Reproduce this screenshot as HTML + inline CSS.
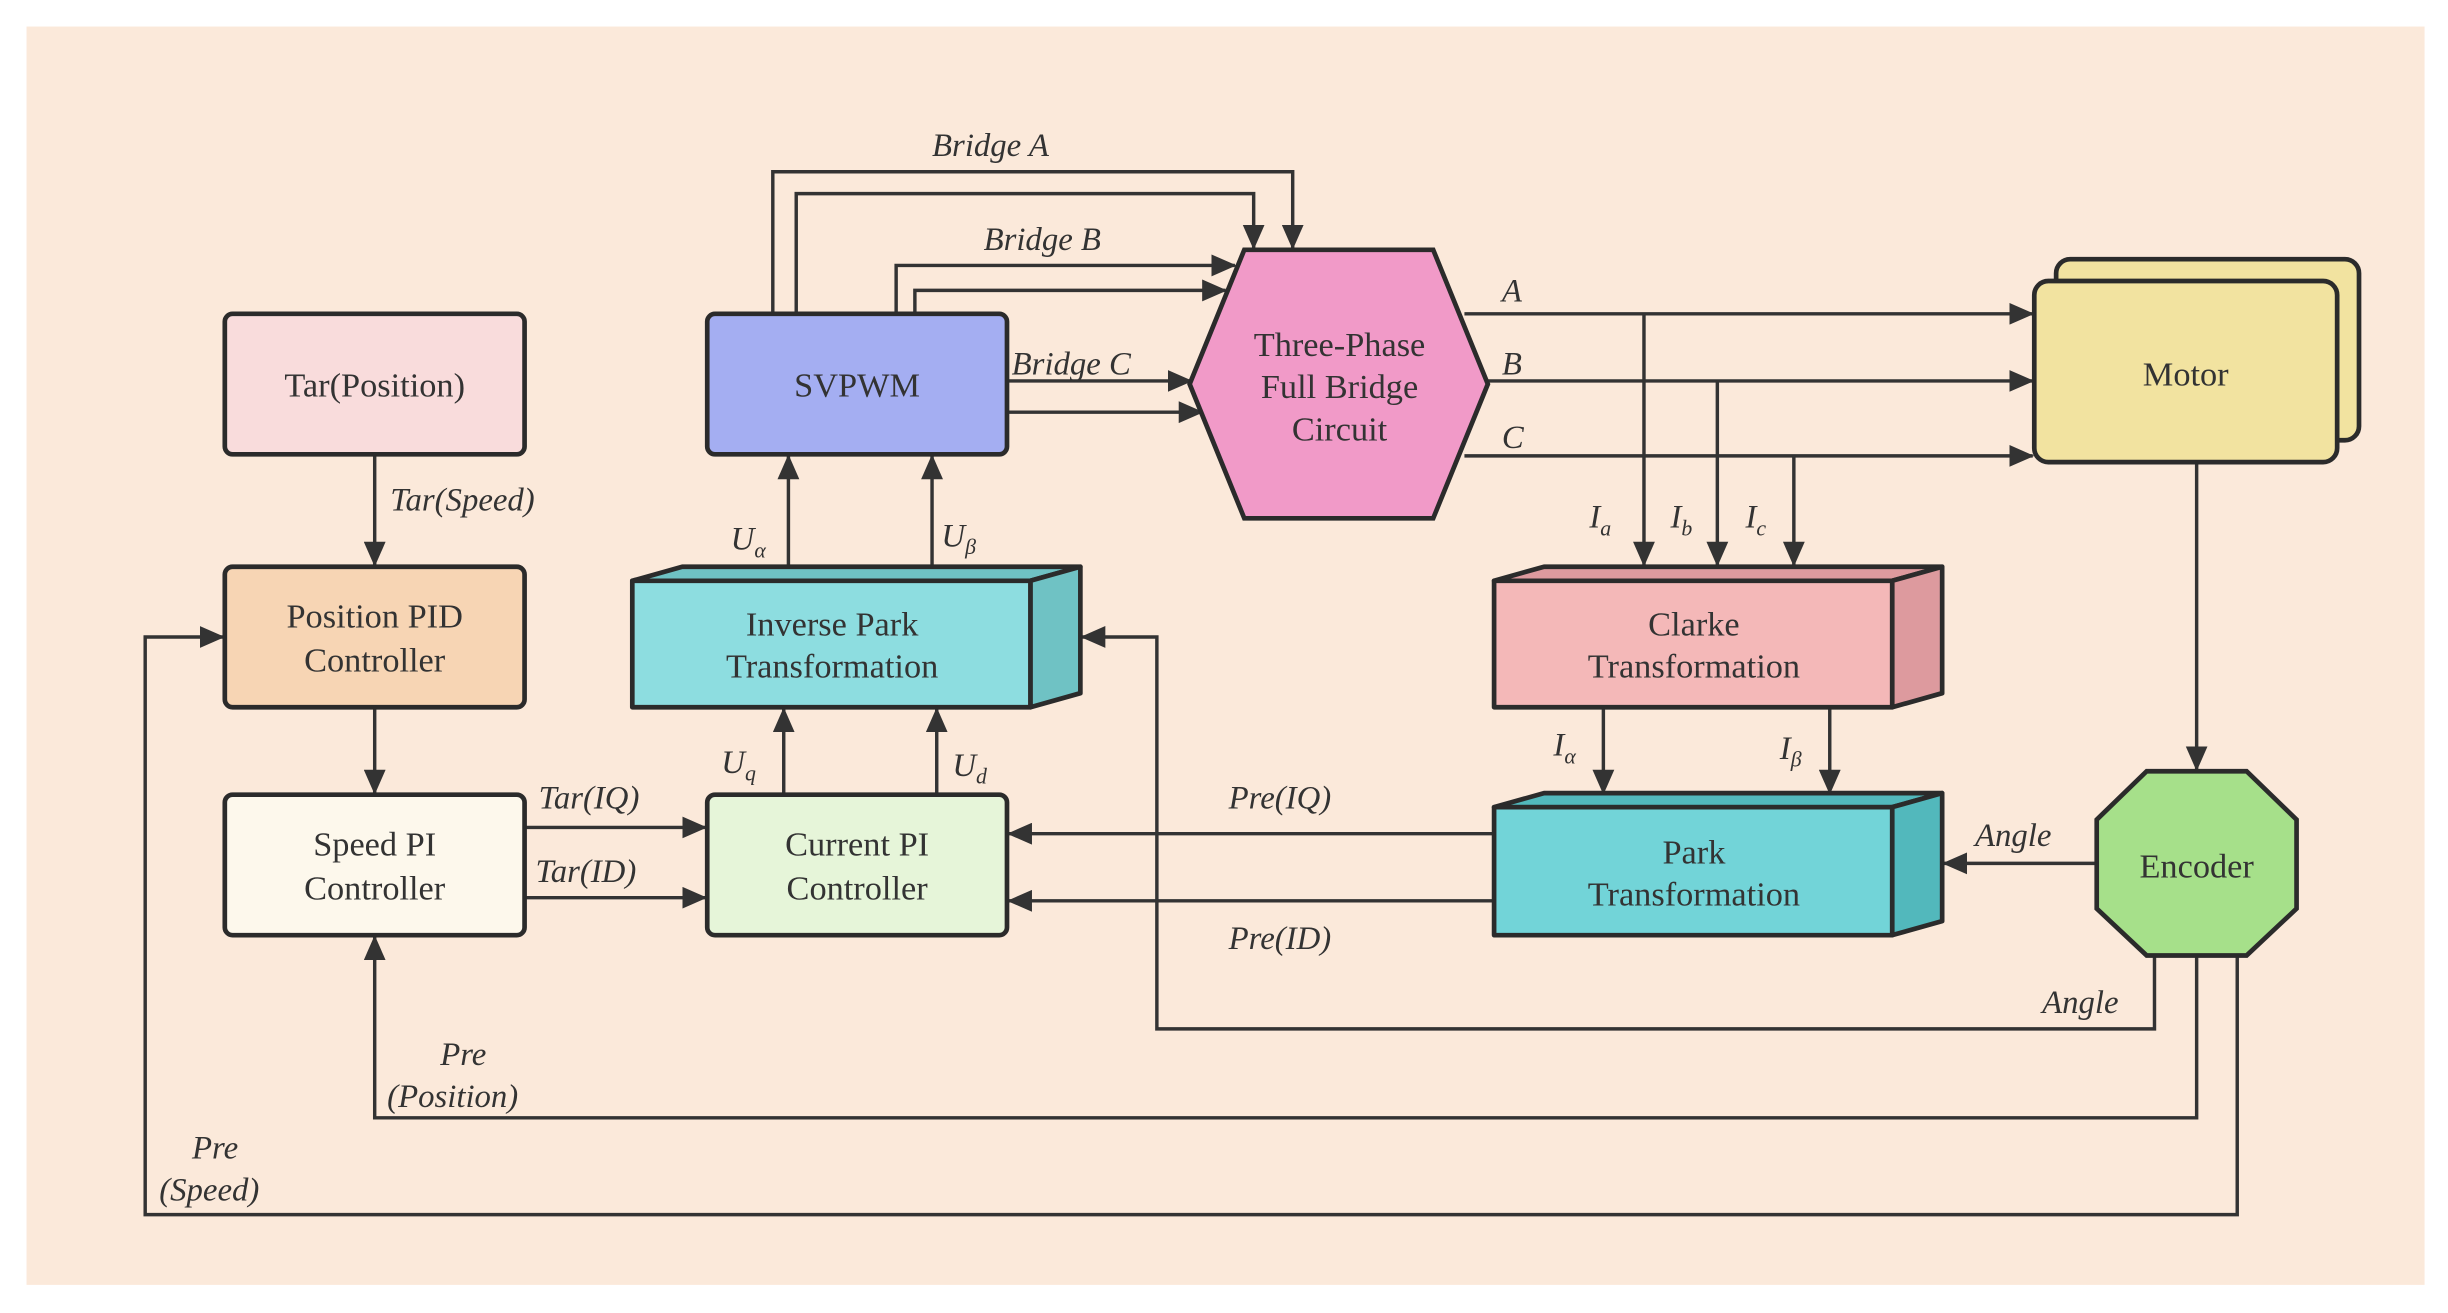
<!DOCTYPE html>
<html><head><meta charset="utf-8"><style>
html,body{margin:0;padding:0;background:#fff;}
svg{display:block;}
text{font-family:"Liberation Serif",serif;fill:#333;}
.n{font-size:22px;text-anchor:middle;}
.l{font-size:21px;font-style:italic;}
.c{fill:none;stroke:#333;stroke-width:2.2;}
.b{stroke:#2b2b2b;stroke-width:3;}
</style></head><body>
<svg width="2448" height="1313" viewBox="0 0 1568 841" xmlns="http://www.w3.org/2000/svg">
<defs>
<marker id="a" markerUnits="userSpaceOnUse" markerWidth="16" markerHeight="14" refX="15" refY="7" orient="auto">
<path d="M0,0 L16,7 L0,14 Z" fill="#333"/></marker>
</defs>
<rect x="0" y="0" width="1568" height="841" fill="#fff"/>
<rect x="17" y="17" width="1536" height="806" fill="#fbe9da"/>

<!-- connectors -->
<g class="c">
<path d="M240,291 V362" marker-end="url(#a)"/>
<path d="M240,453 V508" marker-end="url(#a)"/>
<path d="M336,530 H452" marker-end="url(#a)"/>
<path d="M336,575 H452" marker-end="url(#a)"/>
<path d="M502,509 V454" marker-end="url(#a)"/>
<path d="M600,509 V454" marker-end="url(#a)"/>
<path d="M505,363 V292" marker-end="url(#a)"/>
<path d="M597,363 V292" marker-end="url(#a)"/>
<path d="M495,201 V110 H828 V159" marker-end="url(#a)"/>
<path d="M510,201 V124 H803 V159" marker-end="url(#a)"/>
<path d="M574,201 V170 H791" marker-end="url(#a)"/>
<path d="M586,201 V186 H785" marker-end="url(#a)"/>
<path d="M645,244 H763" marker-end="url(#a)"/>
<path d="M645,264 H770" marker-end="url(#a)"/>
<path d="M938,201 H1302" marker-end="url(#a)"/>
<path d="M953,244 H1302" marker-end="url(#a)"/>
<path d="M938,292 H1302" marker-end="url(#a)"/>
<path d="M1053,201 V362" marker-end="url(#a)"/>
<path d="M1100,244 V362" marker-end="url(#a)"/>
<path d="M1149,292 V362" marker-end="url(#a)"/>
<path d="M1027,453 V508" marker-end="url(#a)"/>
<path d="M1172,453 V508" marker-end="url(#a)"/>
<path d="M957,534 H646" marker-end="url(#a)"/>
<path d="M957,577 H646" marker-end="url(#a)"/>
<path d="M1407,296 V493" marker-end="url(#a)"/>
<path d="M1343,553 H1245" marker-end="url(#a)"/>
<path d="M1380,612 V659 H741 V408 H693" marker-end="url(#a)"/>
<path d="M1407,612 V716 H240 V600" marker-end="url(#a)"/>
<path d="M1433,612 V778 H93 V408 H143" marker-end="url(#a)"/>
</g>

<!-- nodes -->
<rect class="b" x="144" y="201" width="192" height="90" rx="5" fill="#f9dcdc"/>
<text class="n" x="240" y="254">Tar(Position)</text>
<rect class="b" x="144" y="363" width="192" height="90" rx="5" fill="#f7d5b4"/>
<text class="n" x="240" y="402">Position PID</text><text class="n" x="240" y="430">Controller</text>
<rect class="b" x="144" y="509" width="192" height="90" rx="5" fill="#fdf8ec"/>
<text class="n" x="240" y="548">Speed PI</text><text class="n" x="240" y="576">Controller</text>
<rect class="b" x="453" y="509" width="192" height="90" rx="5" fill="#e6f5d9"/>
<text class="n" x="549" y="548">Current PI</text><text class="n" x="549" y="576">Controller</text>
<rect class="b" x="453" y="201" width="192" height="90" rx="5" fill="#a4aef2"/>
<text class="n" x="549" y="254">SVPWM</text>

<!-- inverse park -->
<g class="b" stroke-linejoin="round">
<polygon points="405,372 437,363 692,363 660,372" fill="#6fc2c4"/>
<polygon points="660,372 692,363 692,444 660,453" fill="#6fc2c4"/>
<rect x="405" y="372" width="255" height="81" fill="#8ddde0"/>
</g>
<text class="n" x="533" y="407">Inverse Park</text><text class="n" x="533" y="434">Transformation</text>

<!-- clarke -->
<g class="b" stroke-linejoin="round">
<polygon points="957,372 989,363 1244,363 1212,372" fill="#dd9a9e"/>
<polygon points="1212,372 1244,363 1244,444 1212,453" fill="#dd9a9e"/>
<rect x="957" y="372" width="255" height="81" fill="#f4b8b8"/>
</g>
<text class="n" x="1085" y="407">Clarke</text><text class="n" x="1085" y="434">Transformation</text>

<!-- park -->
<g class="b" stroke-linejoin="round">
<polygon points="957,517 989,508 1244,508 1212,517" fill="#52b8bc"/>
<polygon points="1212,517 1244,508 1244,590 1212,599" fill="#52b8bc"/>
<rect x="957" y="517" width="255" height="82" fill="#72d4d8"/>
</g>
<text class="n" x="1085" y="553">Park</text><text class="n" x="1085" y="580">Transformation</text>

<!-- hexagon -->
<polygon class="b" points="762,246 797,160 918,160 953,246 918,332 797,332" fill="#f19ac8"/>
<text class="n" x="858" y="228">Three-Phase</text><text class="n" x="858" y="255">Full Bridge</text><text class="n" x="858" y="282">Circuit</text>

<!-- motor -->
<rect class="b" x="1317" y="166" width="194" height="116" rx="9" fill="#f2e3a0"/>
<rect class="b" x="1303" y="180" width="194" height="116" rx="9" fill="#f2e3a0"/>
<text class="n" x="1400" y="247">Motor</text>

<!-- encoder -->
<polygon class="b" points="1375,494 1439,494 1471,525 1471,582 1439,612 1375,612 1343,582 1343,525" fill="#a6e08a"/>
<text class="n" x="1407" y="562">Encoder</text>

<!-- labels -->
<text class="l" x="597" y="100">Bridge A</text>
<text class="l" x="630" y="160">Bridge B</text>
<text class="l" x="648" y="240">Bridge C</text>
<text class="l" x="962" y="193">A</text>
<text class="l" x="962" y="240">B</text>
<text class="l" x="962" y="287">C</text>
<text class="l" x="250" y="327">Tar(Speed)</text>
<text class="l" x="345" y="518">Tar(IQ)</text>
<text class="l" x="343" y="565">Tar(ID)</text>
<text class="l" x="462" y="495">U<tspan font-size="14" dy="5">q</tspan></text>
<text class="l" x="610" y="497">U<tspan font-size="14" dy="5">d</tspan></text>
<text class="l" x="468" y="352">U<tspan font-size="14" dy="5">α</tspan></text>
<text class="l" x="603" y="350">U<tspan font-size="14" dy="5">β</tspan></text>
<text class="l" x="1018" y="338">I<tspan font-size="14" dy="5">a</tspan></text>
<text class="l" x="1070" y="338">I<tspan font-size="14" dy="5">b</tspan></text>
<text class="l" x="1118" y="338">I<tspan font-size="14" dy="5">c</tspan></text>
<text class="l" x="995" y="484">I<tspan font-size="14" dy="5">α</tspan></text>
<text class="l" x="1140" y="486">I<tspan font-size="14" dy="5">β</tspan></text>
<text class="l" x="787" y="518">Pre(IQ)</text>
<text class="l" x="787" y="608">Pre(ID)</text>
<text class="l" x="1265" y="542">Angle</text>
<text class="l" x="1308" y="649">Angle</text>
<text class="l" x="282" y="682">Pre</text>
<text class="l" x="248" y="709">(Position)</text>
<text class="l" x="123" y="742">Pre</text>
<text class="l" x="102" y="769">(Speed)</text>
</svg>
</body></html>
